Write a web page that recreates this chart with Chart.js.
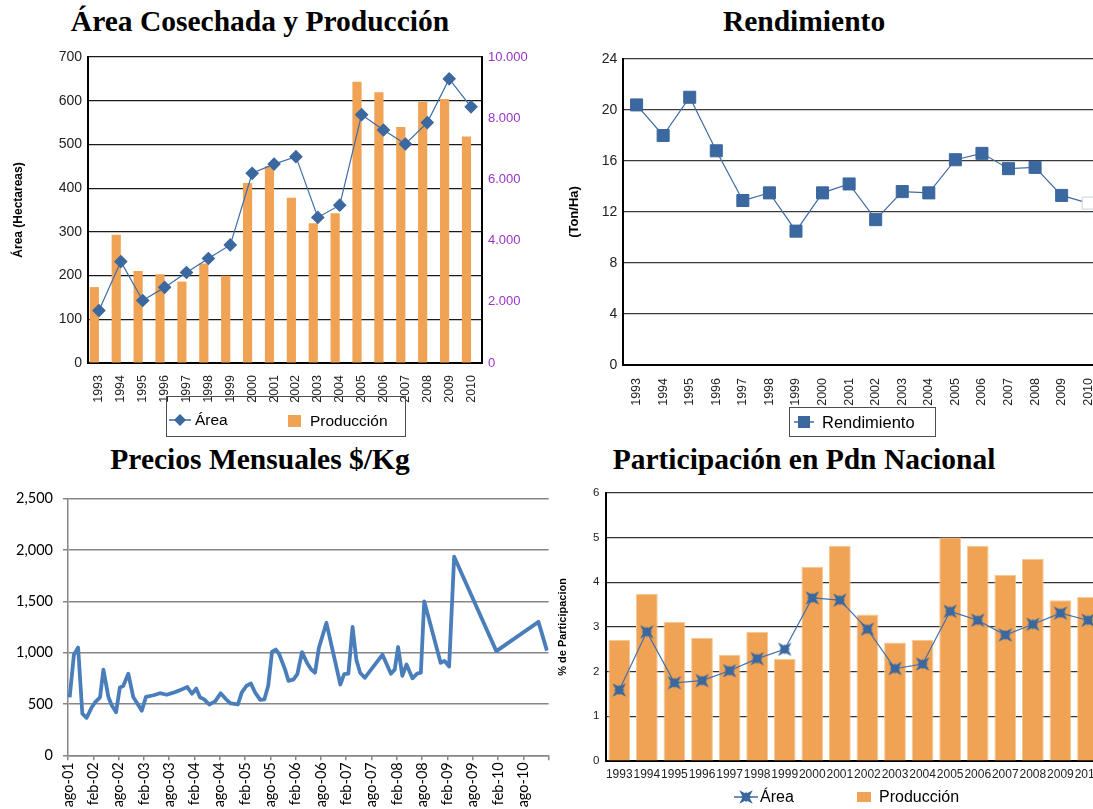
<!DOCTYPE html>
<html lang="es">
<head>
<meta charset="utf-8">
<title>Área Cosechada, Rendimiento, Precios y Participación</title>
<script src="https://cdn.jsdelivr.net/npm/chart.js@4.4.1/dist/chart.umd.min.js"></script>
<style>
  html, body { margin: 0; padding: 0; overflow: hidden; background: #fff; }
  #page { position: relative; width: 1093px; height: 809px; overflow: hidden; }
  .titulo { position: absolute; font-family: "Liberation Serif", "Times New Roman", serif; font-weight: bold;
            font-size: 29.5px; line-height: 32px; white-space: nowrap; transform: translateX(-50%); color: #000; }
  canvas { position: absolute; }
  .marco { position: absolute; box-sizing: border-box; border: 1.5px solid #4d4d4d; }
  .texto { position: absolute; font-family: "Liberation Sans", Arial, sans-serif; white-space: nowrap; color: #000; }
</style>
</head>
<body>
<div id="page">
  <div class="titulo" style="left:260px; top:5px;">Área Cosechada y Producción</div>
  <div class="titulo" style="left:804px; top:5px;">Rendimiento</div>
  <div class="titulo" style="left:260px; top:443px;">Precios Mensuales $/Kg</div>
  <div class="titulo" style="left:804px; top:443px;">Participación en Pdn Nacional</div>

  <canvas id="c1" width="545" height="400" style="left:0px; top:40px;"></canvas>
  <canvas id="c2" width="566" height="400" style="left:545px; top:40px;"></canvas>
  <canvas id="c3" width="568" height="329" style="left:0px; top:480px;"></canvas>
  <canvas id="c4" width="567" height="329" style="left:545px; top:480px;"></canvas>
</div>

<script>
// ---- data ----
var years = ['1993','1994','1995','1996','1997','1998','1999','2000','2001',
             '2002','2003','2004','2005','2006','2007','2008','2009','2010'];

// hectareas (left axis) and toneladas (right axis)
var areaHa = [120, 232, 143, 173, 207, 239, 270, 434, 455, 472, 333, 361, 568, 533, 501, 550, 650, 586];
var produccionTon = [2480, 4190, 3010, 2900, 2660, 3250, 2850, 5880, 6430, 5400, 4570, 4890, 9190, 8850, 7710, 8530, 8630, 7400];

// Ton/Ha
var rendimiento = [20.4, 18.0, 21.0, 16.8, 12.9, 13.5, 10.5, 13.5, 14.2, 11.4, 13.6, 13.5, 16.1, 16.6, 15.4, 15.5, 13.3, 12.7];

// monthly prices: months counted from ago-01
var precioMes = [0.4, 1.4, 2.4, 3.4, 4.4, 5.6, 6.4, 7.6, 8.4, 9.6,
                 10.4, 11.4, 12.3, 13.1, 14.3, 15.5, 16.3, 17.5, 18.5, 20.3,
                 21.8, 23.4, 25.0, 26.6, 28.3, 29.4, 30.4, 31.3, 32.3, 33.5,
                 34.9, 36.2, 37.5, 38.6, 40.3, 41.2, 42.3, 43.4, 44.4, 45.6,
                 46.6, 47.5, 48.4, 49.3, 50.1, 51.5, 52.3, 53.5, 54.4, 55.5,
                 56.7, 57.7, 58.6, 59.5, 61.3, 64.6, 65.5, 66.5, 67.5, 68.4,
                 69.3, 70.4, 74.6, 76.6, 77.5, 78.3, 79.3, 80.3, 81.7, 82.8,
                 83.7, 84.5, 88.4, 89.3, 90.4, 91.6, 101.6, 111.6, 113.6];
var precio = [565, 980, 1050, 405, 365, 465, 515, 565, 835, 565,
              485, 420, 660, 675, 795, 565, 515, 435, 570, 585,
              605, 590, 610, 635, 665, 600, 650, 565, 545, 495,
              525, 605, 545, 505, 495, 610, 675, 700, 610, 540,
              545, 680, 1010, 1030, 985, 835, 725, 740, 790, 1005,
              900, 835, 805, 1045, 1290, 690, 790, 795, 1250, 930,
              805, 755, 980, 795, 835, 1055, 775, 885, 750, 795,
              805, 1500, 900, 920, 865, 1935, 1015, 1300, 1020];
var precioTicks = ['ago-01','feb-02','ago-02','feb-03','ago-03','feb-04','ago-04','feb-05','ago-05',
                   'feb-06','ago-06','feb-07','ago-07','feb-08','ago-08','feb-09','ago-09','feb-10','ago-10'];

// % of national production
var partArea = [1.59, 2.89, 1.75, 1.80, 2.02, 2.29, 2.50, 3.65, 3.60, 2.95, 2.07, 2.17, 3.35, 3.15, 2.82, 3.06, 3.31, 3.15];
var partProd = [2.71, 3.74, 3.11, 2.76, 2.38, 2.89, 2.28, 4.35, 4.82, 3.28, 2.65, 2.71, 5.00, 4.82, 4.16, 4.52, 3.60, 3.67];

// ---- styles ----
var AZUL = '#3B689F';
var NARANJA = '#F0A354';
var MORADO = '#9933CC';
var AZUL_PRECIO = '#4A7EBB';
var SANS = '"Liberation Sans", Arial, sans-serif';

Chart.defaults.animation = false;
Chart.defaults.font.family = SANS;
Chart.defaults.color = '#222';
Chart.defaults.plugins.legend.display = false;
Chart.defaults.plugins.tooltip.enabled = false;

function puntos(ctx, cx, cy, R, r, rot) {
    ctx.beginPath();
    for (var k = 0; k < 8; k++) {
        var a = rot + k * Math.PI / 4;
        var d = (k % 2 === 0) ? R : r;
        var px = cx + d * Math.cos(a), py = cy + d * Math.sin(a);
        if (k === 0) ctx.moveTo(px, py); else ctx.lineTo(px, py);
    }
    ctx.closePath();
    ctx.fill();
}

function estrella(ctx, cx, cy) {
    puntos(ctx, cx, cy, 9.5, 3.3, Math.PI / 4);
    puntos(ctx, cx, cy, 5.5, 2.6, 0);
}

function icono(tipo, color, w, h) {
    var c = document.createElement('canvas');
    c.width = w; c.height = h;
    var g = c.getContext('2d');
    var cx = w / 2, cy = h / 2;
    g.fillStyle = color;
    g.strokeStyle = color;
    if (tipo === 'caja') {
        g.fillRect(0, 0, w, h);
        return c;
    }
    if (tipo !== 'estrellaSola') {
        g.lineWidth = 1.5;
        g.beginPath(); g.moveTo(0, cy); g.lineTo(w, cy); g.stroke();
    }
    if (tipo === 'diamante') {
        g.beginPath();
        g.moveTo(cx, cy - 6); g.lineTo(cx + 6, cy); g.lineTo(cx, cy + 6); g.lineTo(cx - 6, cy);
        g.closePath(); g.fill();
    } else if (tipo === 'cuadro') {
        g.fillRect(cx - 6, cy - 6, 12, 12);
    } else {
        estrella(g, cx, cy);
    }
    return c;
}

// html legend, texts come from the datasets
function ponerLeyenda(chart, items, marco) {
    var page = document.getElementById('page');
    if (marco) {
        var b = document.createElement('div');
        b.className = 'marco';
        b.style.left = marco[0] + 'px'; b.style.top = marco[1] + 'px';
        b.style.width = marco[2] + 'px'; b.style.height = marco[3] + 'px';
        page.appendChild(b);
    }
    var sets = chart.data.datasets.filter(function (d) { return d.label; });
    sets.forEach(function (d, i) {
        var it = items[i];
        var ic = icono(it.tipo, it.color, it.w, it.h);
        ic.style.left = it.x + 'px';
        ic.style.top = (it.y - it.h / 2) + 'px';
        page.appendChild(ic);
        var t = document.createElement('div');
        t.className = 'texto';
        t.textContent = d.label;
        t.style.fontSize = it.size + 'px';
        t.style.lineHeight = '20px';
        t.style.left = it.tx + 'px';
        t.style.top = (it.y - 10) + 'px';
        page.appendChild(t);
    });
}

function miles(v) {
    return String(v).replace(/\B(?=(\d{3})+(?!\d))/g, '.');
}

// ---- 1. Área cosechada y producción ----
var chart1 = new Chart(document.getElementById('c1'), {
    data: {
        labels: years,
        datasets: [
            {
                type: 'line', label: 'Área', data: areaHa, yAxisID: 'y',
                borderColor: '#3D6DA8', borderWidth: 1.2,
                pointStyle: 'rectRot', pointRadius: 6,
                pointBackgroundColor: AZUL, pointBorderColor: AZUL
            },
            {
                type: 'bar', label: 'Producción', data: produccionTon, yAxisID: 'y1',
                backgroundColor: NARANJA, categoryPercentage: 0.84, barPercentage: 1
            },
            {
                // empty slot so the bars sit left of the line points, as in the original
                type: 'bar', label: '', data: years.map(function () { return null; }), yAxisID: 'y1',
                categoryPercentage: 0.84, barPercentage: 1
            }
        ]
    },
    options: {
        responsive: false,
        layout: { padding: { top: 17, left: 0, right: 0, bottom: 0 } },
        scales: {
            x: {
                grid: { display: false },
                border: { color: '#000', width: 2 },
                ticks: { font: { size: 12.5 }, color: '#222', minRotation: 90, maxRotation: 90, padding: 4, autoSkip: false },
                afterFit: function (s) { s.height = 77; }
            },
            y: {
                position: 'left', min: 0, max: 700,
                ticks: { stepSize: 100, font: { size: 14 }, color: '#222', padding: 6 },
                grid: { color: '#1a1a1a', lineWidth: 1.2, drawTicks: false },
                border: { color: '#000', width: 2 },
                title: { display: true, text: 'Área (Hectareas)', font: { size: 12, weight: 'bold' }, color: '#000', padding: { top: 11, bottom: 0 } },
                afterFit: function (s) { s.width = 88; }
            },
            y1: {
                position: 'right', min: 0, max: 10000,
                ticks: { stepSize: 2000, font: { size: 13 }, color: MORADO, padding: 6, callback: miles },
                grid: { drawOnChartArea: false, drawTicks: false },
                border: { color: '#000', width: 2 },
                afterFit: function (s) { s.width = 63; }
            }
        }
    }
});
ponerLeyenda(chart1, [
    { tipo: 'diamante', color: AZUL, w: 22, h: 14, x: 169, y: 420, tx: 195, size: 15.5 },
    { tipo: 'caja', color: NARANJA, w: 13, h: 12, x: 288, y: 421, tx: 310, size: 15.5 }
], [166, 396, 240, 41]);

// ---- 2. Rendimiento ----
var chart2 = new Chart(document.getElementById('c2'), {
    type: 'line',
    data: {
        labels: years,
        datasets: [{
            label: 'Rendimiento', data: rendimiento,
            borderColor: '#3F6CA6', borderWidth: 1.2,
            pointStyle: 'rect', pointRadius: 8.5,
            pointBackgroundColor: function (c) { return c.dataIndex === rendimiento.length - 1 ? '#fff' : AZUL; },
            pointBorderColor: function (c) { return c.dataIndex === rendimiento.length - 1 ? '#c9d3e0' : AZUL; },
            pointBorderWidth: 1
        }]
    },
    options: {
        responsive: false,
        layout: { padding: { top: 19, left: 0, right: 4.7, bottom: 0 } },
        scales: {
            x: {
                offset: true,
                grid: { display: false },
                border: { color: '#000', width: 2 },
                ticks: { font: { size: 12.5 }, color: '#222', minRotation: 90, maxRotation: 90, padding: 5, autoSkip: false },
                afterFit: function (s) { s.height = 75; }
            },
            y: {
                min: 0, max: 24,
                ticks: { stepSize: 4, font: { size: 14 }, color: '#222', padding: 6 },
                grid: { color: '#3a3a3a', lineWidth: 1.2, drawTicks: false },
                border: { color: '#000', width: 2 },
                title: { display: true, text: '(Ton/Ha)', font: { size: 13, weight: 'bold' }, color: '#000', padding: { top: 22, bottom: 0 } },
                afterFit: function (s) { s.width = 78.3; }
            }
        }
    }
});
ponerLeyenda(chart2, [
    { tipo: 'cuadro', color: AZUL, w: 20, h: 14, x: 794, y: 422, tx: 822, size: 16.5 }
], [789, 407, 147, 30]);

// ---- 3. Precios mensuales ----
var chart3 = new Chart(document.getElementById('c3'), {
    type: 'line',
    data: {
        datasets: [{
            label: 'Precio',
            data: precioMes.map(function (m, i) { return { x: m, y: precio[i] }; }),
            borderColor: AZUL_PRECIO, borderWidth: 3.8, pointRadius: 0, tension: 0,
            borderJoinStyle: 'round'
        }]
    },
    options: {
        responsive: false,
        layout: { padding: { top: 15, left: 0, right: 4, bottom: 0 } },
        scales: {
            x: {
                type: 'linear', min: 0, max: 114,
                ticks: {
                    stepSize: 6, autoSkip: false, minRotation: 90, maxRotation: 90,
                    font: { family: 'Lato', size: 14.5 }, color: '#000', padding: 2,
                    callback: function (v) { return precioTicks[Math.round(v / 6)] || ''; }
                },
                grid: { drawOnChartArea: false, drawTicks: true, tickLength: 5, color: '#868686', lineWidth: 1.5 },
                border: { color: '#868686', width: 1.5 },
                afterFit: function (s) { s.height = 53.7; }
            },
            y: {
                min: 0, max: 2500,
                ticks: {
                    stepSize: 500, font: { family: 'Lato', size: 14.5 }, color: '#000', padding: 10,
                    callback: function (v) { return String(v).replace(/\B(?=(\d{3})+(?!\d))/g, ','); }
                },
                grid: { color: '#868686', lineWidth: 1.5, tickLength: 5 },
                border: { color: '#868686', width: 1.5 },
                afterFit: function (s) { s.width = 68; }
            }
        }
    }
});

// ---- 4. Participación en producción nacional ----
var estrellaPunto = icono('estrellaSola', AZUL, 22, 22);
var chart4 = new Chart(document.getElementById('c4'), {
    data: {
        labels: years,
        datasets: [
            {
                type: 'line', label: 'Área', data: partArea,
                borderColor: '#4271AE', borderWidth: 1.2,
                pointStyle: estrellaPunto, pointRadius: 9
            },
            {
                type: 'bar', label: 'Producción', data: partProd,
                backgroundColor: NARANJA, borderColor: '#F6C993', borderWidth: 1,
                categoryPercentage: 1, barPercentage: 0.79
            }
        ]
    },
    options: {
        responsive: false,
        layout: { padding: { top: 10.7, left: 0, right: 5, bottom: 0 } },
        scales: {
            x: {
                grid: { display: false },
                border: { color: '#000', width: 2 },
                ticks: { font: { size: 12 }, color: '#222', minRotation: 0, maxRotation: 0, padding: -2, autoSkip: false },
                afterFit: function (s) { s.height = 48; }
            },
            y: {
                min: 0, max: 6,
                ticks: { stepSize: 1, font: { size: 11.5 }, color: '#222', padding: 6 },
                grid: { color: '#333', lineWidth: 1.2, drawTicks: false },
                border: { color: '#000', width: 2 },
                title: { display: true, text: '% de Participacion', font: { size: 11, weight: 'bold' }, color: '#000', padding: { top: 11.4, bottom: 0 } },
                afterFit: function (s) { s.width = 60.5; }
            }
        }
    }
});
ponerLeyenda(chart4, [
    { tipo: 'estrella', color: AZUL, w: 24, h: 18, x: 734, y: 797, tx: 760, size: 16 },
    { tipo: 'caja', color: NARANJA, w: 14, h: 10, x: 857, y: 797, tx: 879, size: 16 }
], null);
</script>
</body>
</html>
